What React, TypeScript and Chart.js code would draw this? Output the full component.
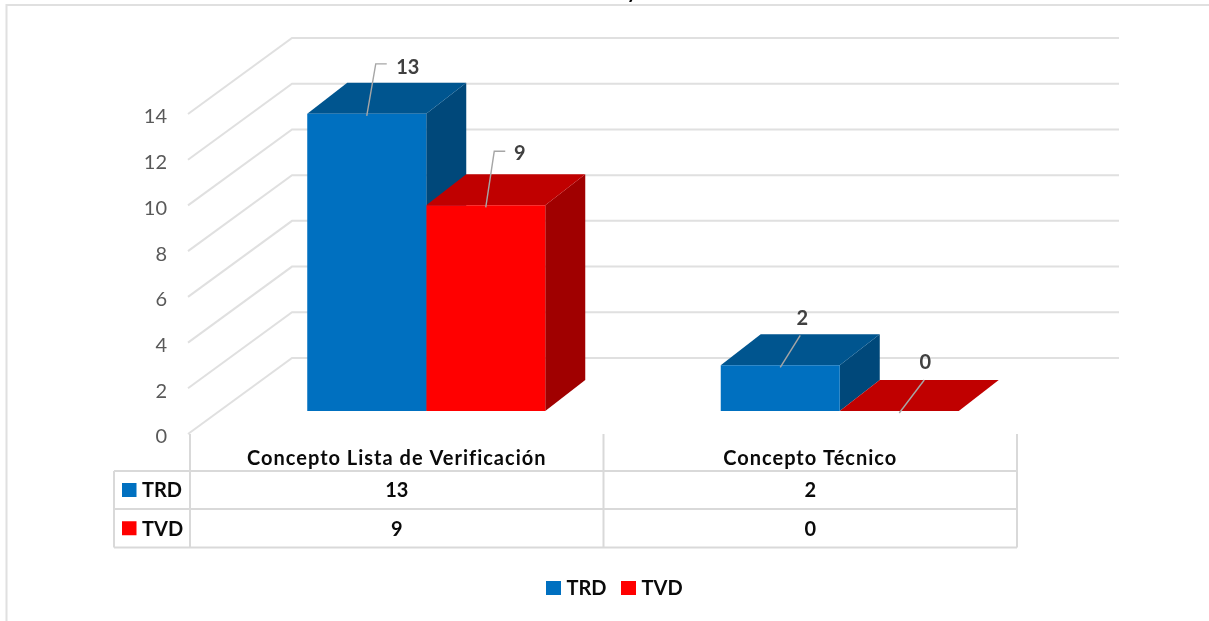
import React, { useEffect, useRef } from "react";
import { Chart, registerables } from "chart.js";

Chart.register(...registerables);

const categories = ["Concepto Lista de Verificación", "Concepto Técnico"];
const seriesNames = ["TRD", "TVD"];
const trdValues = [13, 2];
const tvdValues = [9, 0];
const yMax = 14;
const yStep = 2;
const clippedTitleTail = "y";

const frontColors = ["#0070C0", "#FF0000"];
const topColors = ["#00558F", "#C00000"];
const sideColors = ["#00487A", "#A00000"];
const gridColor = "#E0E0E0";
const tableColor = "#D9D9D9";
const inkColor = "#0A0A0A";
const FONT = "Lato, Carlito, sans-serif";

const depthBack = { x: 102, y: -76 };
const barShift = { x: 29.5, y: -23 };
const barDepth = { x: 40, y: -31 };

const leaders = [
  [
    { ex: 9, ey: -50, tailX: 11, tx: 41, ty: -46.5 },
    { ex: 8.5, ey: -54, tailX: 11, tx: 34, ty: -52 },
  ],
  [
    { ex: 20, ey: -30, tailX: 0, tx: 22, ty: -47 },
    { ex: 25, ey: -31, tailX: 0, tx: 26, ty: -48 },
  ],
];

const threeDPlugin = {
  id: "threeD",
  beforeDraw(chart: any) {
    const { ctx, width, height } = chart;
    ctx.save();
    ctx.fillStyle = "#FFFFFF";
    ctx.fillRect(0, 0, width, height);
    ctx.strokeStyle = gridColor;
    ctx.lineWidth = 2;
    ctx.beginPath();
    ctx.moveTo(6.5, height);
    ctx.lineTo(6.5, 5);
    ctx.lineTo(width, 5);
    ctx.stroke();
    ctx.fillStyle = inkColor;
    ctx.font = `bold 20px ${FONT}`;
    ctx.textAlign = "center";
    ctx.textBaseline = "alphabetic";
    ctx.fillText(clippedTitleTail, 632, -2);
    ctx.restore();
  },
  beforeDatasetsDraw(chart: any) {
    const { ctx, scales } = chart;
    const yS = scales.y;
    const rightEnd = 1119;
    ctx.save();
    ctx.strokeStyle = gridColor;
    ctx.lineWidth = 2;
    yS.ticks.forEach((t: any) => {
      const y = yS.getPixelForValue(t.value);
      const x0 = yS.right;
      ctx.beginPath();
      ctx.moveTo(x0 - 2, y);
      ctx.lineTo(x0 + depthBack.x, y + depthBack.y);
      ctx.lineTo(rightEnd, y + depthBack.y);
      ctx.stroke();
    });
    ctx.restore();

    ctx.save();
    categories.forEach((_, ci) => {
      seriesNames.forEach((__, si) => {
        const bar = chart.getDatasetMeta(si).data[ci];
        const left = bar.x - bar.width / 2 + barShift.x;
        const right = bar.x + bar.width / 2 + barShift.x;
        const top = bar.y + barShift.y;
        const bottom = bar.base + barShift.y;
        ctx.fillStyle = sideColors[si];
        ctx.beginPath();
        ctx.moveTo(right, top);
        ctx.lineTo(right + barDepth.x, top + barDepth.y);
        ctx.lineTo(right + barDepth.x, bottom + barDepth.y);
        ctx.lineTo(right, bottom);
        ctx.closePath();
        ctx.fill();
        ctx.fillStyle = topColors[si];
        ctx.beginPath();
        ctx.moveTo(left, top);
        ctx.lineTo(left + barDepth.x, top + barDepth.y);
        ctx.lineTo(right + barDepth.x, top + barDepth.y);
        ctx.lineTo(right, top);
        ctx.closePath();
        ctx.fill();
      });
    });
    ctx.restore();

    ctx.save();
    ctx.translate(barShift.x, barShift.y);
  },
  afterDatasetsDraw(chart: any) {
    const { ctx } = chart;
    ctx.restore();

    ctx.save();
    ctx.font = `bold 20px ${FONT}`;
    ctx.textAlign = "center";
    ctx.textBaseline = "middle";
    categories.forEach((_, ci) => {
      seriesNames.forEach((__, si) => {
        const bar = chart.getDatasetMeta(si).data[ci];
        const cx = bar.x + barShift.x;
        const cy = bar.y + barShift.y;
        const l = leaders[ci][si];
        ctx.strokeStyle = "#A6A6A6";
        ctx.lineWidth = 1.4;
        ctx.beginPath();
        ctx.moveTo(cx, cy + 2);
        ctx.lineTo(cx + l.ex, cy + l.ey);
        if (l.tailX) ctx.lineTo(cx + l.ex + l.tailX, cy + l.ey);
        ctx.stroke();
        ctx.fillStyle = "#404040";
        const v = chart.data.datasets[si].data[ci];
        ctx.fillText(String(v), cx + l.tx, cy + l.ty);
      });
    });
    ctx.restore();
    // category labels sit on a later layer; Calibri-like tracking for Lato
    ctx.letterSpacing = "1px";
  },
  afterDraw(chart: any) {
    const { ctx, scales } = chart;
    ctx.letterSpacing = "0px";
    const xS = scales.x;
    const top = xS.top;
    const rows = [471, 509, 547.5];
    const tableLeft = 114;
    const colW = (xS.right - xS.left) / categories.length;
    ctx.save();
    ctx.strokeStyle = tableColor;
    ctx.lineWidth = 2;
    ctx.beginPath();
    for (let i = 0; i <= categories.length; i++) {
      const x = xS.left + colW * i;
      ctx.moveTo(x, top);
      ctx.lineTo(x, rows[2]);
    }
    rows.forEach((y) => {
      ctx.moveTo(tableLeft, y);
      ctx.lineTo(xS.right, y);
    });
    ctx.moveTo(tableLeft, rows[0]);
    ctx.lineTo(tableLeft, rows[2]);
    ctx.stroke();

    ctx.font = `bold 20px ${FONT}`;
    ctx.textBaseline = "middle";
    seriesNames.forEach((name, si) => {
      const yc = (rows[si] + rows[si + 1]) / 2;
      ctx.fillStyle = frontColors[si];
      ctx.fillRect(122, yc - 7, 14.5, 14);
      ctx.fillStyle = inkColor;
      ctx.textAlign = "left";
      ctx.fillText(name, 142, yc + 1);
      ctx.textAlign = "center";
      categories.forEach((_, ci) => {
        ctx.fillText(String(chart.data.datasets[si].data[ci]), xS.getPixelForTick(ci), yc + 1);
      });
    });

    const legendX = [546, 621];
    const legendY = 588;
    seriesNames.forEach((name, si) => {
      ctx.fillStyle = frontColors[si];
      ctx.fillRect(legendX[si], legendY - 7, 15, 14);
      ctx.fillStyle = inkColor;
      ctx.textAlign = "left";
      ctx.fillText(name, legendX[si] + 20.5, legendY + 1);
    });
    ctx.restore();
  },
};

export default function App() {
  const ref = useRef<HTMLCanvasElement | null>(null);
  useEffect(() => {
    const chart = new Chart(ref.current as HTMLCanvasElement, {
      type: "bar",
      data: {
        labels: categories,
        datasets: [
          { label: seriesNames[0], data: trdValues, backgroundColor: frontColors[0], clip: false as any },
          { label: seriesNames[1], data: tvdValues, backgroundColor: frontColors[1], clip: false as any },
        ],
      },
      options: {
        animation: false,
        responsive: false,
        maintainAspectRatio: false,
        layout: { padding: { top: 114, left: 0, right: 192, bottom: 0 } },
        plugins: { legend: { display: false }, title: { display: false }, tooltip: { enabled: false } },
        datasets: { bar: { categoryPercentage: 0.5756, barPercentage: 1 } },
        scales: {
          x: {
            border: { display: false },
            grid: { display: false, drawTicks: false },
            ticks: {
              color: inkColor,
              padding: 13,
              maxRotation: 0,
              z: 1,
              font: { family: FONT, size: 20, weight: "bold" },
            },
            afterFit(s: any) {
              s.height = 187;
            },
          },
          y: {
            min: 0,
            max: yMax,
            border: { display: false },
            grid: { display: false, drawTicks: false },
            ticks: {
              stepSize: yStep,
              color: "#595959",
              padding: 23,
              labelOffset: 3,
              font: { family: FONT, size: 20 },
            },
            afterFit(s: any) {
              s.width = 190;
            },
          },
        },
      },
      plugins: [threeDPlugin],
    } as any);
    return () => chart.destroy();
  }, []);
  return (
    <canvas
      ref={ref}
      width={1209}
      height={621}
      style={{ position: "absolute", left: 0, top: 0, width: 1209, height: 621, display: "block" }}
    />
  );
}
